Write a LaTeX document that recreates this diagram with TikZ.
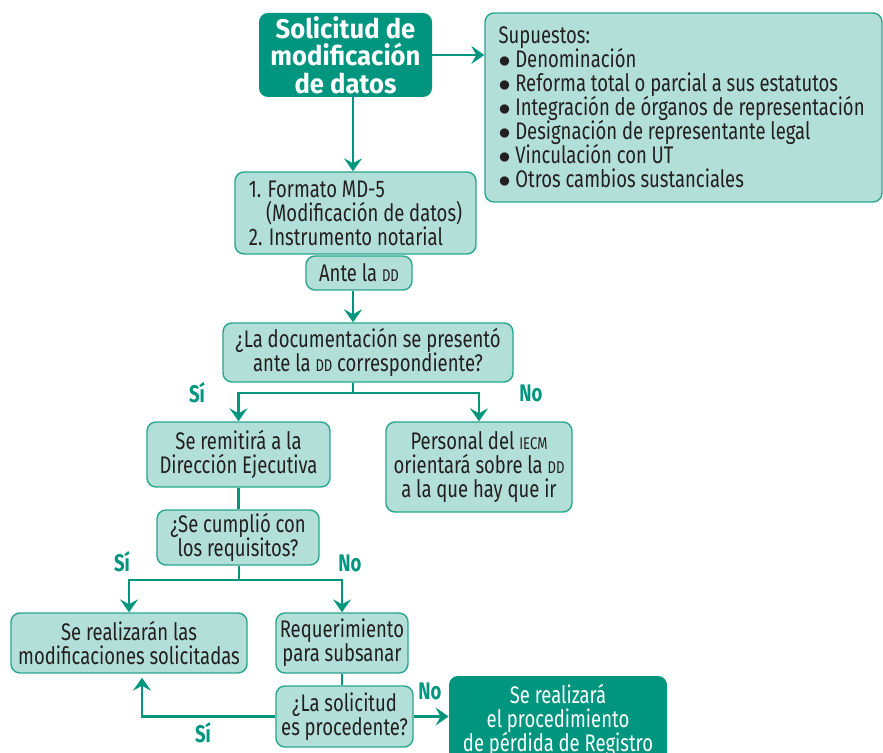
\documentclass[tikz,border=0pt]{standalone}
\usepackage{fontspec}
\setmainfont[FakeStretch=0.77]{Fira Sans}
\newfontfamily\titulofont[FakeStretch=0.95]{Fira Sans}
\usetikzlibrary{arrows.meta}
\definecolor{oscuro}{HTML}{00957F}
\definecolor{claro}{HTML}{B2DFD7}
\definecolor{borde}{HTML}{2AA58F}
\definecolor{texto}{HTML}{231F20}
\newcommand{\sig}[1]{{\fontsize{8.5}{8.5}\selectfont #1}}
\newcommand{\vineta}{\mbox{$\bullet$\ }}
\newcommand{\letra}{\fontsize{12}{12}\selectfont\lineskiplimit=-10pt\lineskip=0pt\spaceskip=2.4pt}

\begin{document}
\begin{tikzpicture}[x=0.5pt,y=-0.5pt,
  caja/.style={draw=borde, fill=claro, line width=0.7pt, rounded corners=4.5pt, align=center, inner sep=0pt, text=texto, font=\letra},
  oscura/.style={fill=oscuro, rounded corners=4.5pt, align=center, inner sep=0pt, text=white, font=\letra},
  linea/.style={draw=oscuro, line width=1.4pt},
  flecha/.style={linea, -{Stealth[length=6.5pt,width=9pt,inset=2.5pt]}},
  resp/.style={text=oscuro, font=\letra\bfseries}]
\useasboundingbox (0,0) rectangle (883,753);
\coordinate (eje) at (353,0);

% inicio
\node[oscura, minimum width=86.5pt, minimum height=42pt, font=\titulofont\fontsize{13.5}{13.75}\selectfont\bfseries] (titulo) at (345.5,55) {Solicitud de\\modificación\\de datos};
\node[caja, align=flush left, text width=185pt, inner xsep=6.75pt, minimum height=94.5pt] (supuestos) at (683.5,107.5) {\mbox{Supuestos:}\\
\mbox{\vineta Denominación}\\
\mbox{\vineta Reforma total o parcial a sus estatutos}\\
\mbox{\vineta Integración de órganos de representación}\\
\mbox{\vineta Designación de representante legal}\\
\mbox{\vineta Vinculación con UT}\\
\mbox{\vineta Otros cambios sustanciales}};
\node[caja, align=left, minimum width=120.5pt, minimum height=41pt] (formato) at (355.5,213) {1. Formato MD-5\\
\hphantom{1.\ }(Modificación de datos)\\
2. Instrumento notarial};
\node[caja, minimum width=53pt, minimum height=17pt] (ante) at (359,273) {Ante la \sig{DD}};

% primera pregunta
\node[caja, minimum width=145pt, minimum height=29.5pt] (preg1) at (368,352.5) {¿La documentación se presentó\\ante la \sig{DD} correspondiente?};
\node[caja, minimum width=91.5pt, minimum height=32.5pt] (remite) at (238.5,454.5) {Se remitirá a la\\Dirección Ejecutiva};
\node[caja, minimum width=93pt, minimum height=45pt] (personal) at (479,467) {Personal del \sig{IECM}\\orientará sobre la \sig{DD}\\a la que hay que ir};

% segunda pregunta
\node[caja, minimum width=81pt, minimum height=27.5pt] (cumple) at (238,537.5) {¿Se cumplió con\\los requisitos?};
\node[caja, minimum width=118pt, minimum height=30pt] (realiza) at (129,643) {Se realizarán las\\modificaciones solicitadas};
\node[caja, minimum width=66pt, minimum height=30pt] (requiere) at (342,643) {Requerimiento\\para subsanar};

% tercera pregunta
\node[caja, minimum width=68.5pt, minimum height=30.5pt] (preg3) at (344.5,716.5) {¿La solicitud\\es procedente?};
\node[oscura, minimum width=109pt, minimum height=44pt] (perdida) at (558,720) {Se realizará\\el procedimiento\\de pérdida de Registro};

% conectores
\draw[flecha] (titulo.east) -- (titulo.east -| supuestos.west);
\draw[flecha] (titulo.south -| eje) -- (formato.north -| eje);
\draw[flecha] (ante.south -| eje) -- (preg1.north -| eje);
\coordinate (r1) at (353,393);
\draw[linea] (preg1.south -| r1) -- (r1);
\draw[flecha] (r1) -| (remite.north);
\draw[flecha] (r1) -| (personal.north);
\draw[linea] (remite.south) -- (remite.south |- cumple.north);
\coordinate (r2) at (239,580);
\draw[linea] (cumple.south -| r2) -- (r2);
\draw[flecha] (r2) -| (realiza.north);
\draw[flecha] (r2) -| (requiere.north);
\draw[linea] (requiere.south) -- (requiere.south |- preg3.north);
\coordinate (r3) at (142,0);
\draw[flecha, shorten >=2pt] (preg3.west) -| (realiza.south -| r3);
\draw[flecha] (preg3.east) -- (preg3.east -| perdida.west);

% respuestas
\node[resp] (si1) at (197,393) {Sí};
\node[resp] (no1) at (531,393) {No};
\node[resp] (si2) at (122,562) {Sí};
\node[resp] (no2) at (350,563) {No};
\node[resp] (no3) at (430,691) {No};
\node[resp] (si3) at (203,733) {Sí};
\end{tikzpicture}
\end{document}
